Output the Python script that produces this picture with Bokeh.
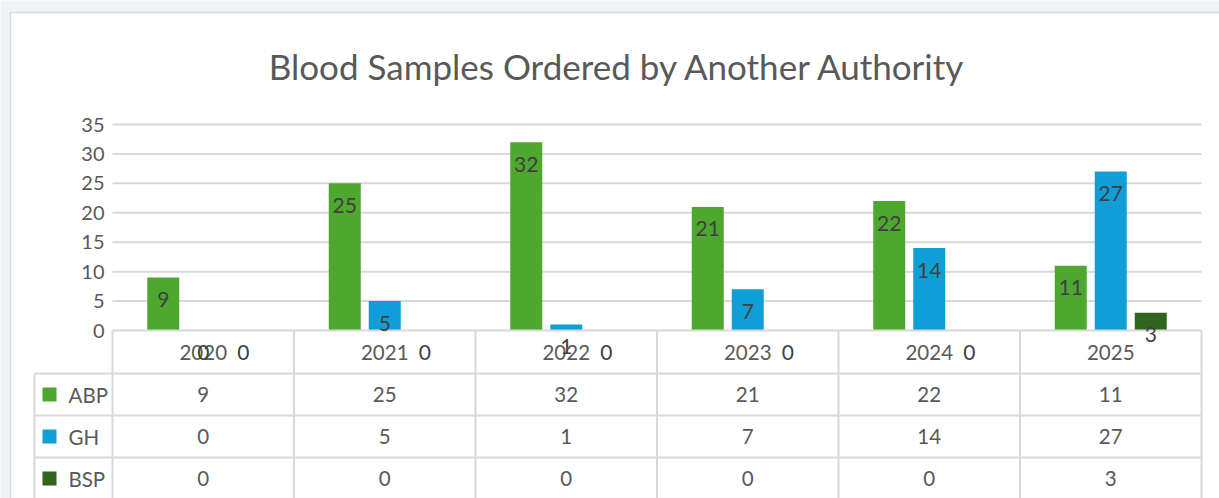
from bokeh.plotting import figure
from bokeh.models import Range1d, FixedTicker
from bokeh.core.properties import value
from bokeh.embed import file_html
from bokeh.resources import INLINE

# ---- data ----
title_text = "Blood Samples Ordered by Another Authority"
years = ["2020", "2021", "2022", "2023", "2024", "2025"]
series_names = ["ABP", "GH", "BSP"]
abp = [9, 25, 32, 21, 22, 11]
gh = [0, 5, 1, 7, 14, 27]
bsp = [0, 0, 0, 0, 0, 3]
series_colors = ["#4EA72E", "#0F9ED5", "#2F651F"]
y_ticks = [0, 5, 10, 15, 20, 25, 30, 35]

series_values = [abp, gh, bsp]

# ---- geometry (pixels) ----
FONT = "Lato"
W, H = 1219, 498
plot_left, plot_right = 112, 1201   # category area, page px
zero_py, top_py = 330, 124          # page y of 0 and 35
n = len(years)
cat_px = (plot_right - plot_left) / n
unit_px = (zero_py - top_py) / 35.0

def X(px):
    return (px - plot_left) / cat_px

def Y(py):
    return (zero_py - py) / unit_px

p = figure(width=W, height=H,
           x_range=Range1d(X(0), X(W)), y_range=Range1d(Y(H), Y(0)),
           x_axis_location=None, output_backend="svg", toolbar_location=None,
           min_border=0)
p.outline_line_color = None
p.background_fill_color = "white"
p.border_fill_color = "white"
p.xgrid.grid_line_color = None
p.ygrid.grid_line_color = None

# page background + card
p.quad(left=[X(-10)], right=[X(W + 10)], top=[Y(-10)], bottom=[Y(H + 10)],
       fill_color="#F1F2F6", line_color=None)
p.quad(left=[X(10)], right=[X(W + 20)], top=[Y(12)], bottom=[Y(H + 20)],
       fill_color="white", line_color="#D9D9D9", line_width=1.5)

# title
p.text(x=[X(617.5)], y=[Y(65.5)], text=[title_text], text_font=value(FONT),
       text_font_size="35px", text_color="#595959", text_align="center",
       text_baseline="middle")

yax = p.yaxis[0]
yax.fixed_location = 0
yax.bounds = (0, 35)
yax.ticker = FixedTicker(ticks=y_ticks)
yax.axis_line_color = None
yax.major_tick_line_color = None
yax.minor_tick_line_color = None
yax.major_tick_out = 0
yax.major_tick_in = 0
yax.major_label_standoff = 8
yax.major_label_text_font = FONT
yax.major_label_text_font_size = "20px"
yax.major_label_text_color = "#595959"

grid_c = "#D9D9D9"
# gridlines
p.segment(x0=[0] * (len(y_ticks) - 1), x1=[n] * (len(y_ticks) - 1),
          y0=y_ticks[1:], y1=y_ticks[1:], line_color=grid_c, line_width=2)

# bars
offsets = [-40 / cat_px, 0, 40 / cat_px]
bar_w = 32 / cat_px
for vals, off, col in zip(series_values, offsets, series_colors):
    xs = [i + 0.5 + off for i in range(n)]
    p.vbar(x=xs, top=vals, bottom=0, width=bar_w, fill_color=col, line_color=None)

# table lines
row_py = [373, 415, 457, 499]
tbl_left = X(34)
p.segment(x0=[0], x1=[n], y0=[0], y1=[0], line_color=grid_c, line_width=2)
rl = [Y(v) for v in row_py[:3]]
p.segment(x0=[tbl_left] * 3, x1=[n] * 3, y0=rl, y1=rl, line_color=grid_c, line_width=2)
vx = list(range(n + 1))
p.segment(x0=vx, x1=vx, y0=[0] * len(vx), y1=[Y(H + 10)] * len(vx),
          line_color=grid_c, line_width=2)
p.segment(x0=[tbl_left], x1=[tbl_left], y0=[Y(row_py[0])], y1=[Y(H + 10)],
          line_color=grid_c, line_width=2)

# header labels
p.text(x=[i + 0.5 for i in range(n)], y=[Y(352)] * n, text=years,
       text_font=value(FONT), text_font_size="20.5px", text_color="#595959",
       text_align="center", text_baseline="middle")

# table rows
for r, (name, vals, col) in enumerate(zip(series_names, series_values, series_colors)):
    ry = Y((row_py[r] + row_py[r + 1]) / 2)
    p.text(x=[i + 0.5 for i in range(n)], y=[ry] * n, text=[str(v) for v in vals],
           text_font=value(FONT), text_font_size="20.5px", text_color="#595959",
           text_align="center", text_baseline="middle")
    p.rect(x=[X(49)], y=[ry], width=14, height=14, width_units="screen",
           height_units="screen", fill_color=col, line_color=None)
    p.text(x=[X(68)], y=[ry], text=[name], text_font=value(FONT), text_font_size="20.5px",
           text_color="#595959", text_align="left", text_baseline="middle")

# data labels
for vals, off in zip(series_values, offsets):
    xs = [i + 0.5 + off for i in range(n)]
    p.text(x=xs, y=vals, text=[str(v) for v in vals], y_offset=22,
           text_font=value(FONT), text_font_size="21px", text_color="#404040",
           text_align="center", text_baseline="middle")

open("out.html", "w").write(file_html(p, INLINE))
